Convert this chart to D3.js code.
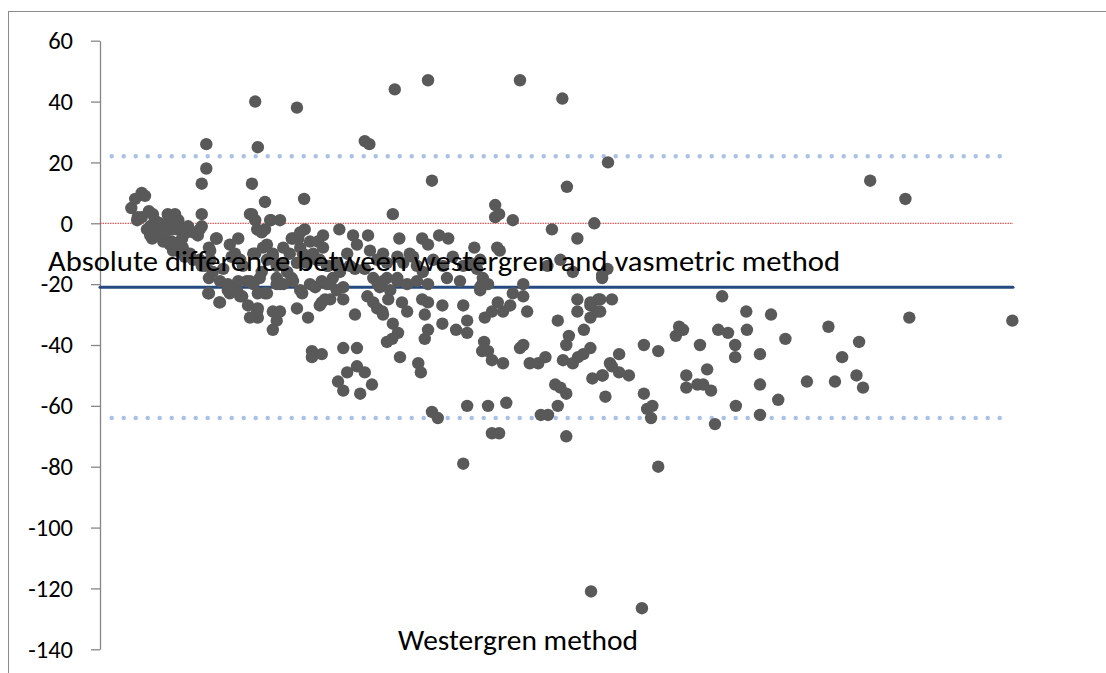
<!DOCTYPE html>
<html>
<head>
<meta charset="utf-8">
<script src="https://cdnjs.cloudflare.com/ajax/libs/d3/7.8.5/d3.min.js"></script>
<style>
  body { margin: 0; background: #fff; }
  svg { display: block; }
</style>
</head>
<body>
<svg width="1106" height="673"></svg>
<script>
// Westergren value (x) and difference (y)
const westergren = [
  4.8, 5.4, 6.4, 6.9, 5.7, 6.4, 7.5, 8.1, 7.2, 8.0, 8.7, 9.5, 10.3, 11.2, 11.8, 9.7,
  10.7, 12.6, 13.5, 13.3, 15.0, 15.6, 15.6, 15.6, 16.3, 16.3, 16.7, 11.2, 12.7, 13.8, 15.3, 16.1,
  16.7, 16.7, 18.3, 17.8, 19.9, 21.2, 20.7, 21.9, 19.9, 21.0, 21.8, 22.5, 22.7, 23.3, 23.3, 23.8,
  24.2, 23.8, 24.1, 23.8, 24.2, 24.2, 24.2, 25.3, 24.8, 25.6, 26.2, 27.6, 26.5, 27.1, 25.6, 27.1,
  28.1, 27.6, 27.1, 26.5, 30.2, 31.3, 31.4, 30.4, 29.6, 29.1, 30.7, 28.7, 29.6, 31.0, 30.2, 31.9,
  32.2, 33.4, 32.7, 33.7, 33.0, 34.0, 35.0, 35.7, 34.0, 35.3, 36.7, 37.3, 37.3, 38.8, 39.4, 37.9,
  39.1, 40.6, 41.3, 41.1, 41.4, 40.6, 41.0, 41.9, 42.9, 43.4, 42.5, 43.3, 44.9, 45.2, 44.2, 32.5,
  32.5, 34.0, 37.3, 39.4, 39.4, 40.6, 37.9, 36.5, 37.3, 39.9, 41.7, 44.0, 44.8, 46.0, 5.8, 7.7,
  8.4, 9.2, 10.4, 11.5, 12.0, 7.7, 8.9, 10.0, 11.0, 12.6, 11.0, 12.3, 14.3, 11.8, 13.0, 15.3,
  16.9, 14.3, 15.6, 16.9, 17.9, 17.3, 18.9, 20.2, 18.4, 19.6, 21.2, 16.6, 18.4, 21.5, 23.5, 24.1,
  23.0, 25.3, 23.0, 25.3, 26.1, 23.5, 25.0, 25.6, 24.8, 27.1, 29.4, 30.7, 34.2, 30.2, 31.1, 33.3,
  34.8, 36.3, 34.2, 28.1, 29.4, 32.2, 35.3, 38.3, 39.1, 30.7, 34.5, 36.3, 33.7, 26.5, 19.6, 27.6,
  34.8, 50.3, 50.9, 45.9, 49.4, 50.3, 52.0, 53.4, 57.4, 48.0, 21.5, 26.5, 28.1, 31.7, 42.5, 44.0,
  45.6, 46.5, 47.5, 48.6, 49.5, 51.1, 52.6, 54.1, 55.7, 56.7, 58.3, 41.9, 43.4, 45.6, 47.1, 48.6,
  50.3, 53.2, 55.2, 36.8, 23.0, 24.5, 64.4, 70.9, 77.9, 71.6, 60.6, 60.6, 61.2, 63.3, 75.8, 69.3,
  73.2, 60.9, 61.3, 68.6, 72.5, 77.0, 77.8, 64.9, 58.3, 59.5, 63.3, 64.9, 73.2, 76.4, 78.5, 95.4,
  61.0, 62.9, 75.2, 57.8, 58.7, 70.6, 42.6, 44.5, 43.4, 46.3, 47.1, 44.9, 45.7, 49.8, 49.4, 50.3,
  50.3, 49.8, 52.5, 52.5, 55.7, 56.3, 54.6, 56.3, 58.6, 58.3, 59.0, 60.1, 61.8, 58.9, 58.6, 59.5,
  60.1, 61.8, 65.5, 64.4, 64.9, 65.9, 67.2, 68.3, 70.2, 71.9, 71.5, 73.2, 75.2, 76.2, 75.2, 74.2,
  75.2, 74.1, 73.3, 71.0, 72.5, 75.5, 77.0, 77.5, 78.2, 48.8, 49.2, 69.8, 70.6, 71.5, 70.2, 56.3,
  59.5, 62.3, 50.9, 51.8, 67.6, 68.7, 60.1, 61.2, 71.5, 55.7, 44.0, 45.6, 76.7, 76.7, 99.1, 102.9,
  111.7, 99.2, 94.8, 96.3, 88.8, 89.4, 88.3, 92.0, 97.4, 97.4, 101.2, 105.1, 116.4, 113.8, 83.4, 85.6,
  79.6, 78.5, 79.6, 81.1, 77.1, 89.9, 89.9, 91.6, 92.5, 93.7, 93.1, 101.2, 108.4, 112.7, 116.0, 117.0,
  104.0, 83.4, 83.9, 84.7, 84.5, 97.5, 101.2, 94.3, 85.6, 77.0, 118.1, 123.5, 124.1, 139.9, 75.3, 83.1
];
const difference = [
  5, 8, 10, 9, 1, 2, 4, 3, -2, -5, -1, -3, 0, 2, -2, -6,
  -7, -5, -1, -3, -4, 3, -1, 13, 18, 26, -8, -9, -8, -10, -12, -14,
  -18, -23, -26, -5, -7, -5, -10, -14, -23, -22, -24, -19, -27, 13, 3, 40,
  25, 1, -2, -10, -23, -28, -31, 7, -3, -7, 1, 1, -10, -14, -23, -20,
  -8, -29, -32, -35, 38, 8, -2, -5, -5, -10, -8, -16, -19, -23, -28, -31,
  -6, -6, -10, -12, -21, -19, -14, -18, -26, -25, -2, -21, -25, -4, -7, -10,
  -30, 27, 26, -4, -9, -15, -24, -26, -21, -10, -28, -29, 3, 44, -25, -42,
  -44, -43, -41, -41, -47, -49, -49, -52, -55, -56, -53, -39, -38, -44, 2, -1,
  1, 0, 3, 3, 1, -4, -4, -3, -2, -2, -6, -6, -3, -9, -11, -2,
  -9, -12, -14, -12, -5, -16, -15, -11, -19, -20, -19, -23, -26, -24, -20, -29,
  -31, -23, 3, -2, 1, -10, -8, -12, -16, -18, -5, -3, -4, -13, -10, -12,
  -14, -13, -8, -20, -18, -20, -20, -14, -15, -22, -25, -22, -27, -29, -22, -20,
  -20, 47, 14, -5, -5, -7, -4, -5, -8, -11, -12, -11, -13, -13, -12, -13,
  -11, -13, -10, -14, -16, -12, -14, -11, -14, -13, -12, -18, -19, -19, -20, -19,
  -20, -18, -19, -16, -19, -18, 47, 41, 20, 12, 6, 2, 3, 1, 0, -2,
  -5, -8, -9, -14, -16, -18, -15, -20, -21, -20, -23, -24, -25, -25, -25, -24,
  -26, -27, -27, -15, -18, -12, -20, -22, -30, -26, -29, -33, -36, -30, -25, -26,
  -35, -38, -27, -33, -27, -32, -35, -36, -20, -22, -31, -29, -29, -39, -42, -42,
  -45, -46, -29, -41, -40, -46, -46, -44, -32, -37, -40, -29, -26, -29, -31, -35,
  -41, -43, -44, -45, -46, -51, -50, -57, -46, -46, -49, -53, -54, -56, -60, -60,
  -60, -59, -62, -64, -63, -63, -69, -69, -70, -79, -18, -18, -25, -29, -29, -30,
  -34, -35, -35, -36, -34, -35, -37, -40, -40, -44, -43, -38, -39, -44, -40, -42,
  -43, -47, -49, -50, -50, -50, -54, -53, -53, -55, -48, -53, -52, -52, -50, -54,
  -58, -56, -61, -60, -64, -60, -63, -66, -80, -17, 14, 8, -31, -32, -121, -126.5
];
const yTicks = [-140, -120, -100, -80, -60, -40, -20, 0, 20, 40, 60];
const meanDiff = -21;
const upperLimit = 22;
const lowerLimit = -64;
const yTitle = 'Absolute difference between westergren and vasmetric method';
const xTitle = 'Westergren method';

const font = 'Carlito, Lato, sans-serif';
const svg = d3.select('svg');

const x = d3.scaleLinear().domain([0, 140]).range([100, 1013]);
const y = d3.scaleLinear().domain([-140, 60]).range([649.3, 40.7]);

// chart area border (runs off the right and bottom edges)
svg.append('rect')
    .attr('x', 8.5)
    .attr('y', 11.5)
    .attr('width', 1120)
    .attr('height', 700)
    .attr('fill', 'none')
    .attr('stroke', '#8c8c8c');

// y axis
const yAxis = svg.append('g')
    .attr('transform', 'translate(100,0)')
    .call(d3.axisLeft(y).tickValues(yTicks).tickSize(9).tickSizeOuter(0).tickPadding(18)
        .tickFormat(d => String(d)));
yAxis.attr('font-family', font).attr('font-size', 24.5);
yAxis.select('.domain').attr('stroke', '#868686').attr('stroke-width', 1.3);
yAxis.selectAll('.tick line').attr('stroke', '#868686').attr('stroke-width', 1.3);
yAxis.selectAll('.tick text').attr('fill', '#000');

const [x0, x1] = x.range();

// reference lines sit under the points
svg.append('line')
    .attr('x1', x0).attr('x2', x1)
    .attr('y1', y(0)).attr('y2', y(0))
    .attr('stroke', '#d42b2b')
    .attr('stroke-width', 1)
    .attr('stroke-dasharray', '1.5 1');

[upperLimit, lowerLimit].forEach(v => {
  svg.append('line')
      .attr('x1', x0 + 11.7).attr('x2', x1 - 12)
      .attr('y1', y(v)).attr('y2', y(v))
      .attr('stroke', '#a9c0e8')
      .attr('stroke-width', 4.5)
      .attr('stroke-linecap', 'round')
      .attr('stroke-dasharray', '0 12');
});

svg.append('line')
    .attr('x1', x0).attr('x2', x1)
    .attr('y1', y(meanDiff)).attr('y2', y(meanDiff))
    .attr('stroke', '#254a80')
    .attr('stroke-width', 3)
    .attr('stroke-linecap', 'round');

// points
const points = westergren.map((w, i) => ({ w: w, d: difference[i] }));
svg.append('g')
    .selectAll('circle')
    .data(points)
    .join('circle')
    .attr('cx', d => x(d.w))
    .attr('cy', d => y(d.d))
    .attr('r', 6.2)
    .attr('fill', '#595959');

// axis titles
svg.append('text')
    .attr('x', 48)
    .attr('y', 271)
    .attr('font-family', font)
    .attr('font-size', 29.5)
    .attr('textLength', 792)
    .attr('lengthAdjust', 'spacingAndGlyphs')
    .attr('fill', '#000')
    .text(yTitle);

svg.append('text')
    .attr('x', 398)
    .attr('y', 650)
    .attr('font-family', font)
    .attr('font-size', 29)
    .attr('textLength', 240)
    .attr('lengthAdjust', 'spacingAndGlyphs')
    .attr('fill', '#000')
    .text(xTitle);
</script>
</body>
</html>
